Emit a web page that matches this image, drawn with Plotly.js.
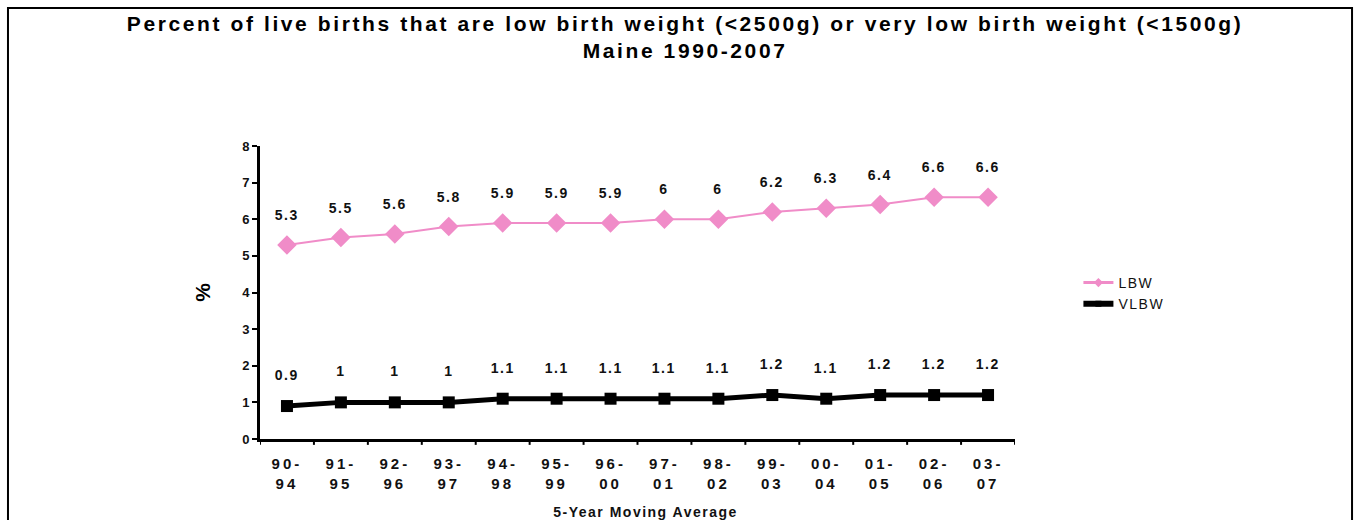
<!DOCTYPE html>
<html>
<head>
<meta charset="utf-8">
<script src="https://cdn.plot.ly/plotly-3.0.1.min.js"></script>
<style>
body{margin:0;padding:0;background:#fff;}
#chart{width:1359px;height:520px;}
#chart .gtitle{letter-spacing:2.6px;}
#chart .xtick text{letter-spacing:3px;}
#chart .annotation-text{letter-spacing:1.5px;}
#chart .legendtext{letter-spacing:1.5px;}
</style>
</head>
<body>
<div id="chart"></div>
<script>
var categories = ["90-<br>94","91-<br>95","92-<br>96","93-<br>97","94-<br>98","95-<br>99","96-<br>00","97-<br>01","98-<br>02","99-<br>03","00-<br>04","01-<br>05","02-<br>06","03-<br>07"];
var lbw = [5.3,5.5,5.6,5.8,5.9,5.9,5.9,6,6,6.2,6.3,6.4,6.6,6.6];
var vlbw = [0.9,1,1,1,1.1,1.1,1.1,1.1,1.1,1.2,1.1,1.2,1.2,1.2];
var seriesNames = ["LBW","VLBW"];

var F = "Liberation Sans, Arial, sans-serif";
var idx = categories.map(function(_, i){ return i; });
var pink = "#F08CC8";

var traces = [
  {x: idx, y: lbw, name: seriesNames[0], mode: "lines+markers", showlegend: false,
   line: {color: pink, width: 2},
   marker: {symbol: "diamond", size: 15, color: pink}},
  {x: idx, y: vlbw, name: seriesNames[1], mode: "lines+markers", showlegend: false,
   line: {color: "#000000", width: 5},
   marker: {symbol: "square", size: 12, color: "#000000"}},
  {x: [null], y: [null], name: seriesNames[0], mode: "lines+markers",
   line: {color: pink, width: 3}, marker: {symbol: "diamond", size: 7, color: pink}},
  {x: [null], y: [null], name: seriesNames[1], mode: "lines+markers",
   line: {color: "#000000", width: 6}, marker: {symbol: "square", size: 6, color: "#000000"}}
];

var annotations = [];
lbw.forEach(function(v, i){
  annotations.push({x: i, y: v, xref: "x", yref: "y", text: "<b>" + v + "</b>", showarrow: false,
    yshift: 30, font: {family: F, size: 14, color: "#111"}});
});
vlbw.forEach(function(v, i){
  annotations.push({x: i, y: v, xref: "x", yref: "y", text: "<b>" + v + "</b>", showarrow: false,
    yshift: 31, font: {family: F, size: 14, color: "#111"}});
});
annotations.push({x: 0.51, y: -0.248, xref: "paper", yref: "paper", xanchor: "center", yanchor: "middle",
  text: "<b>5-Year Moving Average</b>", showarrow: false, font: {family: F, size: 14, color: "#111"}});

var layout = {
  width: 1359, height: 520,
  margin: {l: 260, r: 344, t: 146, b: 81},
  paper_bgcolor: "#fff", plot_bgcolor: "#fff",
  font: {family: F, color: "#111"},
  title: {text: "<b>Percent of live births that are low birth weight (<2500g) or very low birth weight (<1500g)<br>Maine 1990-2007</b>",
    x: 0.563, xref: "paper", xanchor: "center", y: 0.941, yanchor: "top",
    font: {family: F, size: 21, color: "#000"}},
  xaxis: {
    type: "linear", range: [-0.5, 13.5], tickmode: "array", tickvals: idx,
    ticktext: categories.map(function(c){return "<b>"+c+"</b>";}),
    showgrid: false, zeroline: false, showline: true, linecolor: "#000", linewidth: 3,
    ticks: "", ticklabelstandoff: 9, tickfont: {family: F, size: 15, color: "#111"}, fixedrange: true
  },
  yaxis: {
    range: [0, 8], dtick: 1, showgrid: false, zeroline: false, showline: true, linecolor: "#000", linewidth: 3,
    ticks: "outside", ticklen: 5, tickwidth: 2, tickcolor: "#000",
    tickfont: {family: F, size: 13, color: "#111"}, tickprefix: "<b>", ticksuffix: "</b>",
    title: {text: "<b>%</b>", font: {family: F, size: 21, color: "#000"}, standoff: 26}
  },
  legend: {x: 1.084, y: 0.587, xanchor: "left", yanchor: "top", bgcolor: "rgba(0,0,0,0)",
    font: {family: F, size: 14, color: "#111"}},
  annotations: annotations,
  shapes: [
    {type: "rect", xref: "paper", yref: "paper", x0: -0.3338, x1: 1.4464, y0: -0.35, y1: 1.471,
     line: {color: "#000", width: 2}, fillcolor: "rgba(0,0,0,0)", layer: "above"}
  ].concat(idx.concat([14]).map(function(i){
    return {type: "line", xref: "x", yref: "paper", x0: i - 0.5, x1: i - 0.5, y0: 0, y1: -0.02,
      line: {color: "#000", width: 2}};
  }))
};

Plotly.newPlot("chart", traces, layout, {displayModeBar: false, staticPlot: true});
</script>
</body>
</html>
